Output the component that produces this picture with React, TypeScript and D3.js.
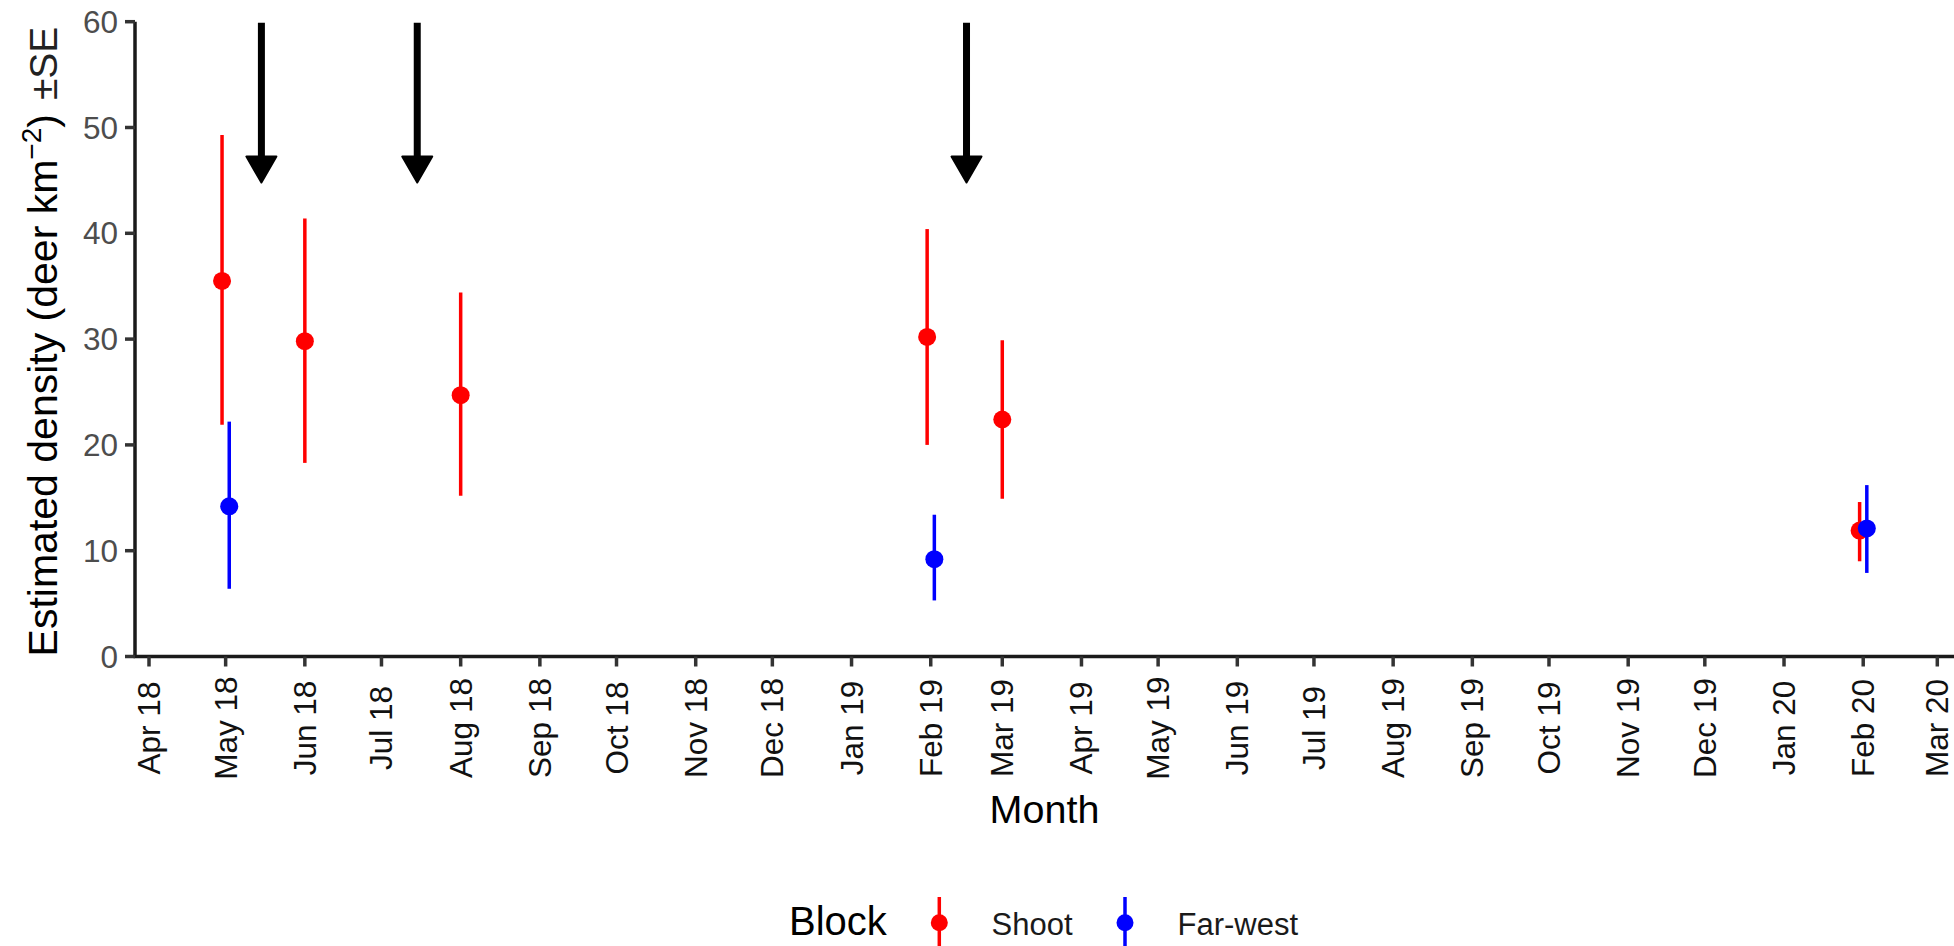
import React, { useEffect, useRef } from "react";
import * as d3 from "d3";

// month of survey (first of month), estimate, lower and upper SE limits
const shootMonths = ["2018-05", "2018-06", "2018-08", "2019-02", "2019-03", "2020-02"];
const shootValues = [35.5, 29.8, 24.7, 30.2, 22.4, 11.9];
const shootLower = [21.9, 18.3, 15.2, 20.0, 14.9, 9.0];
const shootUpper = [49.3, 41.4, 34.4, 40.4, 29.9, 14.6];

const farWestMonths = ["2018-05", "2019-02", "2020-02"];
const farWestValues = [14.2, 9.2, 12.1];
const farWestLower = [6.4, 5.3, 7.9];
const farWestUpper = [22.2, 13.4, 16.2];

// culling events marked with arrows
const arrowDates = ["2018-05-15", "2018-07-15", "2019-02-15"];
const arrowFrom = 60;
const arrowTo = 44.8;

const yTicks = [0, 10, 20, 30, 40, 50, 60];

const series = [
  { name: "Shoot", color: "#FF0000", months: shootMonths, values: shootValues, lower: shootLower, upper: shootUpper },
  { name: "Far-west", color: "#0000FF", months: farWestMonths, values: farWestValues, lower: farWestLower, upper: farWestUpper },
];

const FONT = "'Liberation Sans', Arial, Helvetica, sans-serif";

const App = () => {
  const chartRef = useRef<SVGSVGElement>(null);

  useEffect(() => {
    const width = 1954;
    const height = 946;
    const plot = { left: 135, right: 1954, top: 21.7, bottom: 656.5 };

    const svg = d3.select(chartRef.current).attr("width", width).attr("height", height);
    svg.selectAll("*").remove();

    const parseMonth = d3.utcParse("%Y-%m");
    const parseDay = d3.utcParse("%Y-%m-%d");

    const x = d3
      .scaleUtc()
      .domain([new Date(Date.UTC(2018, 3, 1)), new Date(Date.UTC(2020, 2, 1))])
      .range([149, 1937.3]);

    const y = d3.scaleLinear().domain([0, 60]).range([plot.bottom, plot.top]);

    // x axis
    const xg = svg.append("g");
    xg.append("line")
      .attr("x1", plot.left - 1.5)
      .attr("x2", plot.right)
      .attr("y1", plot.bottom)
      .attr("y2", plot.bottom)
      .attr("stroke", "#1a1a1a")
      .attr("stroke-width", 3.5);
    const months = d3.utcMonth.range(x.domain()[0], d3.utcDay.offset(x.domain()[1], 1));
    const fmt = d3.utcFormat("%b %y");
    months.forEach((m) => {
      const px = x(m);
      xg.append("line")
        .attr("x1", px)
        .attr("x2", px)
        .attr("y1", plot.bottom)
        .attr("y2", plot.bottom + 10)
        .attr("stroke", "#333")
        .attr("stroke-width", 3.5);
      xg.append("text")
        .attr("transform", `translate(${px + 11},728) rotate(-90)`)
        .attr("text-anchor", "middle")
        .attr("font-family", FONT)
        .attr("font-size", 31.5)
        .attr("fill", "#111")
        .text(fmt(m));
    });

    // y axis
    const yg = svg.append("g");
    yg.append("line")
      .attr("x1", plot.left)
      .attr("x2", plot.left)
      .attr("y1", plot.top)
      .attr("y2", plot.bottom + 1.5)
      .attr("stroke", "#1a1a1a")
      .attr("stroke-width", 3.5);
    yTicks.forEach((t) => {
      yg.append("line")
        .attr("x1", plot.left - 10)
        .attr("x2", plot.left)
        .attr("y1", y(t))
        .attr("y2", y(t))
        .attr("stroke", "#333")
        .attr("stroke-width", 3.5);
      yg.append("text")
        .attr("x", 118)
        .attr("y", y(t) + 11)
        .attr("text-anchor", "end")
        .attr("font-family", FONT)
        .attr("font-size", 31.5)
        .attr("fill", "#4d4d4d")
        .text(t);
    });

    // axis titles
    svg.append("text")
      .attr("x", 1044.5)
      .attr("y", 822.5)
      .attr("text-anchor", "middle")
      .attr("font-family", FONT)
      .attr("font-size", 39.5)
      .attr("fill", "#000")
      .text("Month");

    const yt = svg.append("text")
      .attr("transform", "translate(57,341.5) rotate(-90)")
      .attr("text-anchor", "middle")
      .attr("font-family", FONT)
      .attr("font-size", 41)
      .attr("fill", "#000");
    yt.append("tspan").text("Estimated density (deer km");
    yt.append("tspan").attr("dy", -16).attr("font-size", 28).text("\u22122");
    yt.append("tspan").attr("dy", 16).text(")");
    yt.append("tspan").attr("dx", 14).attr("font-size", 39).attr("fill", "#222").text("\u00B1SE");

    // arrows
    const ag = svg.append("g");
    arrowDates.forEach((d) => {
      const px = x(parseDay(d)!);
      const tip = y(arrowTo);
      const base = tip - 26;
      ag.append("line")
        .attr("x1", px)
        .attr("x2", px)
        .attr("y1", y(arrowFrom) + 1)
        .attr("y2", base + 2)
        .attr("stroke", "#000")
        .attr("stroke-width", 7);
      ag.append("path")
        .attr("d", `M${px - 15},${base}L${px + 15},${base}L${px},${tip}Z`)
        .attr("fill", "#000")
        .attr("stroke", "#000")
        .attr("stroke-width", 2)
        .attr("stroke-linejoin", "round");
    });

    // error bars and points with a small dodge where both blocks share a month
    const allMonths = series.map((s) => s.months);
    series.forEach((s, si) => {
      const g = svg.append("g");
      s.months.forEach((m, i) => {
        const shared = allMonths.filter((ms) => ms.includes(m)).length > 1;
        const dodge = shared ? (si === 0 ? -3.6 : 3.6) : 0;
        const px = x(parseMonth(m)!) + dodge;
        g.append("line")
          .attr("x1", px)
          .attr("x2", px)
          .attr("y1", y(s.lower[i]))
          .attr("y2", y(s.upper[i]))
          .attr("stroke", s.color)
          .attr("stroke-width", 3.5);
        g.append("circle")
          .attr("cx", px)
          .attr("cy", y(s.values[i]))
          .attr("r", 9)
          .attr("fill", s.color);
      });
    });

    // legend
    const lg = svg.append("g");
    lg.append("text")
      .attr("x", 789)
      .attr("y", 934.5)
      .attr("font-family", FONT)
      .attr("font-size", 40)
      .attr("fill", "#000")
      .text("Block");
    const keyX = [939.3, 1125];
    const labelX = [991.5, 1177.5];
    series.forEach((s, i) => {
      lg.append("line")
        .attr("x1", keyX[i])
        .attr("x2", keyX[i])
        .attr("y1", 897)
        .attr("y2", 948)
        .attr("stroke", s.color)
        .attr("stroke-width", 3.5);
      lg.append("circle").attr("cx", keyX[i]).attr("cy", 922.7).attr("r", 8.5).attr("fill", s.color);
      lg.append("text")
        .attr("x", labelX[i])
        .attr("y", 934.5)
        .attr("font-family", FONT)
        .attr("font-size", 31)
        .attr("fill", "#1a1a1a")
        .text(s.name);
    });
  }, []);

  return (
    <div style={{ position: "absolute", left: 0, top: 0, background: "#fff" }}>
      <svg ref={chartRef} style={{ display: "block" }}></svg>
    </div>
  );
};

export default App;
